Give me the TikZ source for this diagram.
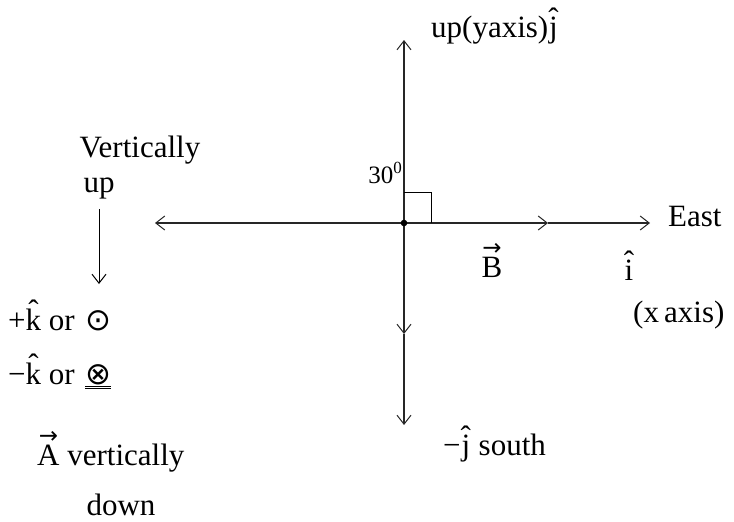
\documentclass[tikz,border=0pt]{standalone}
\usepackage{fontspec}
\usepackage{graphicx}
\setmainfont{Liberation Serif}
\newfontfamily\symf{DejaVu Sans}
\usetikzlibrary{arrows.meta}
\newcommand\hatx[1]{\leavevmode\vbox{\offinterlineskip\halign{\hfil##\hfil\cr\char"02C6\cr\noalign{\kern-0.42em}#1\cr}}}
\newcommand\vecx[1]{\leavevmode\vbox{\offinterlineskip\halign{\hfil##\hfil\cr\resizebox{0.62em}{!}{\symf →}\cr\noalign{\kern1pt}#1\cr}}}
\begin{document}
\begin{tikzpicture}[x=1pt,y=-1pt,
  lbl/.style={font=\fontsize{31}{34}\selectfont, inner sep=0pt},
  axis/.style={line width=1.1pt, draw=black!85},
  tip/.style={-{Straight Barb[length=9pt,width=14pt,line width=1pt]}}]
\useasboundingbox (0,0) rectangle (734,522);
% key points
\coordinate (O) at (404,223);
\coordinate (Up) at (404,40);
\coordinate (Dn) at (404,425);
\coordinate (Lf) at (155,223);
\coordinate (Rt) at (650,223);
\coordinate (Bm) at (548,223);
\coordinate (Dm) at (404,334);
% axes
\draw[axis,tip] (O) -- (Up);
\draw[axis,tip] (O) -- (Lf);
\draw[axis,tip] (O) -- (Bm);
\draw[axis,tip] (Bm) -- (Rt);
\draw[axis,tip] (O) -- (Dm);
\draw[axis,tip] (Dm) -- (Dn);
% right angle mark
\coordinate (Ra) at (431,192);
\draw[line width=1pt] (O |- Ra) -- (Ra) -- (Ra |- O);
\fill (O) circle (3.3pt);
% labels
\node[lbl, anchor=base west] (uplab) at (431,37) {up(yaxis)\hatx{j}};
\node[font=\fontsize{25}{27}\selectfont, inner sep=0pt, anchor=base east] (ang) at (402,183) {30\raisebox{0.4em}{\fontsize{17}{18}\selectfont 0}};
\node[lbl, anchor=base west] (east) at (668,226) {East};
\node[lbl, anchor=base] (B) at (492,277) {\vecx{B}};
\node[lbl, anchor=base] (i) at (629,280) {\hatx{i}};
\node[lbl, anchor=base west] (xax) at (633,322) {(x\,axis)};
\node[lbl, anchor=base west] (south) at (443,455) {−\hatx{j} south};
% left side
\node[lbl, anchor=base] (vu1) at (140,157) {Vertically};
\node[lbl, anchor=base] (vu2) at (99,192) {up};
\coordinate (k1) at (99,209);
\coordinate (k2) at (99,284);
\draw[line width=1pt, tip] (k1) -- (k2);
\node[lbl, anchor=base west] (kp) at (8,330) {+\hatx{k} or\,\,{\symf ⊙}};
\node[lbl, anchor=base west] (km) at (8,384) {−\hatx{k} or\,\,\underline{\underline{\symf ⊗}}};
\node[lbl, anchor=base west] (A) at (37,465) {\vecx{A} vertically};
\node[lbl, anchor=base] (down) at (121,515) {down};
\end{tikzpicture}
\end{document}
